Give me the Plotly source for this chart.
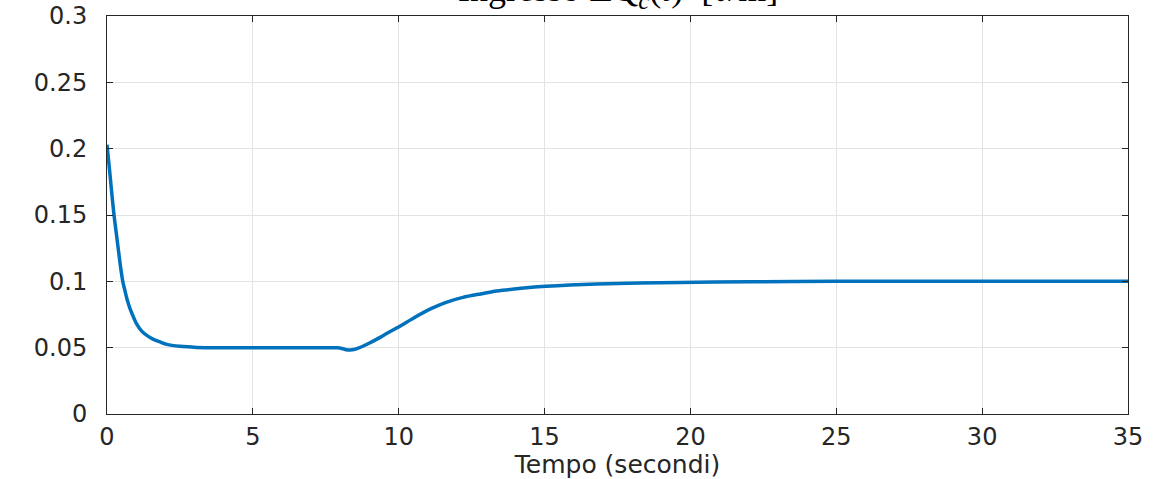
import plotly.graph_objects as go

# Data
time_s = [0, 0.05, 0.1, 0.17, 0.24, 0.32, 0.4, 0.47, 0.54, 0.62, 0.7, 0.78, 0.87, 1.0,
          1.19, 1.4, 1.59, 1.8, 2.05, 2.5, 3.07, 4.0, 5.0, 6.0, 7.0, 7.6, 7.9, 8.05, 8.2,
          8.33, 8.5, 8.73, 9.0, 9.3, 9.6, 10.04, 10.5, 11.07, 11.6, 12.2, 12.8, 13.36,
          14.2, 15.04, 16.79, 19.64, 22, 25, 30, 35]
dq_c = [0.203, 0.192, 0.181, 0.165, 0.15, 0.136, 0.122, 0.11, 0.1, 0.0925, 0.0855, 0.08,
        0.075, 0.0685, 0.0625, 0.0587, 0.0563, 0.0545, 0.0525, 0.051, 0.0502, 0.05, 0.05,
        0.05, 0.05, 0.05, 0.0499, 0.0494, 0.0485, 0.0482, 0.0488, 0.0507, 0.0535, 0.057,
        0.0608, 0.0662, 0.0722, 0.079, 0.084, 0.0879, 0.0905, 0.0927, 0.0947, 0.0962,
        0.098, 0.0992, 0.0997, 0.1, 0.1, 0.1]

x_ticks = [0, 5, 10, 15, 20, 25, 30, 35]
y_ticks = [0, 0.05, 0.1, 0.15, 0.2, 0.25, 0.3]
y_tick_labels = ["0", "0.05", "0.1", "0.15", "0.2", "0.25", "0.3"]

title_text = "Ingresso ΔQ<sub><i>c</i></sub>(<i>t</i>)  [<i>ℓ</i>/m]"
x_title = "Tempo (secondi)"

axis_color = "#262626"
grid_color = "#e3e3e3"
tick_font = dict(family="DejaVu Sans", size=24, color=axis_color)

fig = go.Figure()
fig.add_trace(go.Scatter(
    x=time_s, y=dq_c, mode="lines",
    line=dict(color="#0072BD", width=3.5, shape="spline", smoothing=0.7),
    showlegend=False,
))

fig.update_layout(
    width=1154, height=479,
    margin=dict(l=107, r=26, t=16, b=65),
    paper_bgcolor="white", plot_bgcolor="white",
    annotations=[dict(
        text=title_text, xref="paper", yref="paper", x=0.5, y=1,
        xanchor="center", yanchor="bottom", yshift=0, showarrow=False,
        font=dict(family="Liberation Serif", size=36, color="black"),
    )],
)
fig.update_xaxes(
    range=[0, 35], tickvals=x_ticks, ticktext=[str(v) for v in x_ticks],
    showline=True, mirror="ticks", linecolor=axis_color, linewidth=1,
    ticks="inside", ticklen=6, tickcolor=axis_color,
    showgrid=True, gridcolor=grid_color, gridwidth=1, zeroline=False,
    tickfont=tick_font, ticklabelstandoff=1, automargin=False,
    title=dict(text=x_title, font=dict(family="DejaVu Sans", size=25, color=axis_color), standoff=0),
)
fig.update_yaxes(
    range=[0, 0.3], tickvals=y_ticks, ticktext=y_tick_labels,
    showline=True, mirror="ticks", linecolor=axis_color, linewidth=1,
    ticks="inside", ticklen=6, tickcolor=axis_color,
    showgrid=True, gridcolor=grid_color, gridwidth=1, zeroline=False,
    tickfont=tick_font, ticklabelstandoff=14, automargin=False,
)

fig.write_html("out.html")
